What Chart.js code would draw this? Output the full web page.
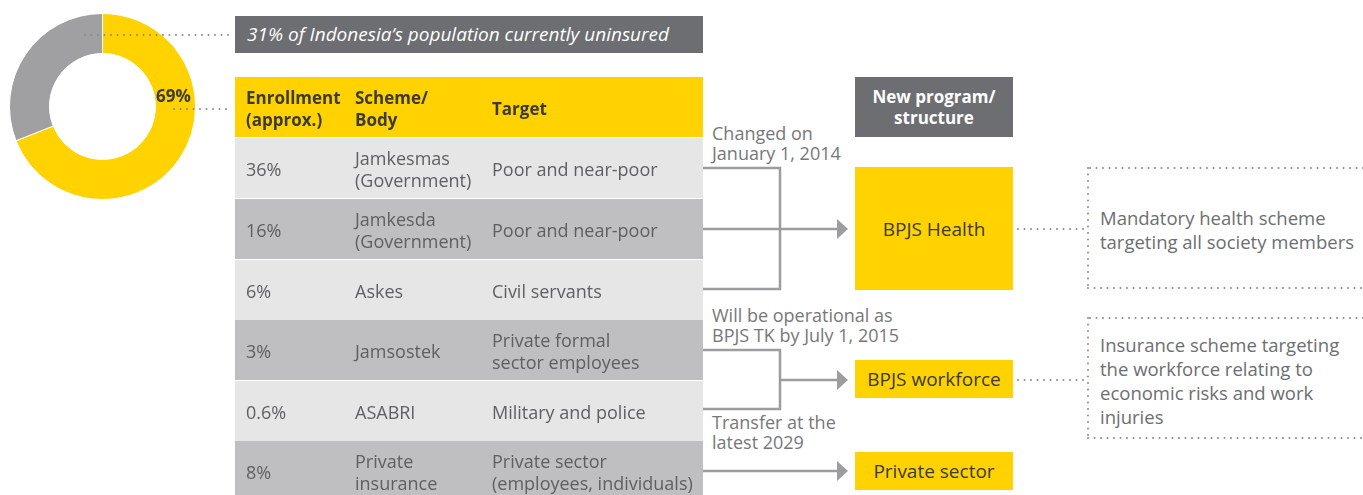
<!DOCTYPE html>
<html>
<head>
<meta charset="utf-8">
<script src="https://cdn.jsdelivr.net/npm/chart.js@4.4.1/dist/chart.umd.min.js"></script>
<style>
  html, body { margin: 0; padding: 0; background: #fff; }
  body { width: 1363px; height: 495px; position: relative; overflow: hidden;
         font-family: "Open Sans", "Noto Sans", sans-serif; color: #5f5f61; }
  .abs { position: absolute; }
  #donut { left: 9px; top: 13px; width: 187px; height: 187px; }
  .pct { left: 156px; top: 84px; font-size: 17px; font-weight: 700; color: #3b3b3d; }
  .banner { left: 235px; top: 16px; width: 468px; height: 37px; background: #6d6e71;
            color: #fff; font-style: italic; font-size: 19px; line-height: 37px; box-sizing: border-box; padding-left: 12px; }
  .hdr { left: 235px; top: 77px; width: 468px; height: 60px; background: #ffd200; }
  .hdr div, .row div { position: absolute; white-space: nowrap; }
  .hdr div { font-weight: 700; font-size: 17px; line-height: 22px; color: #3b3b3d; }
  .row { left: 235px; width: 468px; height: 60px; }
  .row div { font-size: 18px; line-height: 21.5px; color: #5f5f61; }
  .box { display: flex; align-items: center; justify-content: center; text-align: center;
         font-size: 19px; color: #3b3b3d; }
  .note { font-size: 18px; line-height: 19.5px; color: #77777a; white-space: nowrap; }
  .side { font-size: 18.5px; line-height: 24px; color: #6d6e71; white-space: nowrap; }
  svg { position: absolute; left: 0; top: 0; }
</style>
</head>
<body>
<div id="donut" class="abs"><canvas id="chart" width="187" height="187"></canvas></div>
<div class="abs pct" id="pct"></div>
<div class="abs banner" id="banner"></div>
<div class="abs hdr" id="hdr"></div>
<div id="rows"></div>
<div id="right"></div>
<svg width="1363" height="495" id="lines"></svg>

<script>
/* data */
const pieLabels = ["Insured", "Uninsured"];
const pieValues = [69, 31];
const pieColors = ["#ffd200", "#a0a0a2"];

const headers = ["Enrollment<br>(approx.)", "Scheme/<br>Body", "Target"];
const enrollment = ["36%", "16%", "6%", "3%", "0.6%", "8%"];
const schemes = ["Jamkesmas<br>(Government)", "Jamkesda<br>(Government)", "Askes", "Jamsostek", "ASABRI", "Private<br>insurance"];
const targets = ["Poor and near-poor", "Poor and near-poor", "Civil servants", "Private formal<br>sector employees", "Military and police", "Private sector<br>(employees, individuals)"];

const newPrograms = ["BPJS Health", "BPJS workforce", "Private sector"];
const transitions = ["Changed on<br>January 1, 2014", "Will be operational as<br>BPJS TK by July 1, 2015", "Transfer at the<br>latest 2029"];
const descriptions = ["Mandatory health scheme<br>targeting all society members",
  "Insurance scheme targeting<br>the workforce relating to<br>economic risks and work<br>injuries"];

/* doughnut */
new Chart(document.getElementById("chart"), {
  type: "doughnut",
  data: {
    labels: pieLabels,
    datasets: [{ data: pieValues, backgroundColor: pieColors, borderColor: "#fff", borderWidth: 1 }],
  },
  options: {
    responsive: false,
    animation: false,
    cutout: "57%",
    plugins: { legend: { display: false }, tooltip: { enabled: false } },
  },
});
document.getElementById("pct").textContent = pieValues[0] + "%";
document.getElementById("banner").textContent = pieValues[1] + "% of Indonesia\u2019s population currently uninsured";

/* table */
const colX = [11, 120, 257];
const hdr = document.getElementById("hdr");
headers.forEach((h, i) => {
  const d = document.createElement("div");
  d.innerHTML = h;
  d.style.left = colX[i] + "px";
  d.style.top = (h.includes("<br>") ? 10 : 21) + "px";
  hdr.appendChild(d);
});

const rows = document.getElementById("rows");
const rowTops = [138, 199, 260, 320, 381, 441];
enrollment.forEach((e, r) => {
  const row = document.createElement("div");
  row.className = "abs row";
  row.style.top = rowTops[r] + "px";
  row.style.height = (r === 5 ? 54 : 60) + "px";
  row.style.background = r % 2 ? "#bfbfc1" : "#e6e6e7";
  [e, schemes[r], targets[r]].forEach((t, i) => {
    const d = document.createElement("div");
    d.innerHTML = t;
    d.style.left = colX[i] + "px";
    d.style.top = (t.includes("<br>") ? 10 : 21) + "px";
    row.appendChild(d);
  });
  rows.appendChild(row);
});

/* right side */
const right = document.getElementById("right");
function addBox(x, y, w, h, html, bg, cls, extra) {
  const d = document.createElement("div");
  d.className = "abs " + cls;
  Object.assign(d.style, { left: x + "px", top: y + "px", width: w + "px", height: h + "px", background: bg }, extra || {});
  d.innerHTML = html;
  right.appendChild(d);
}
addBox(855, 77, 158, 60, "New program/<br>structure", "#6d6e71", "box",
  { color: "#fff", fontWeight: "700", fontSize: "17px", lineHeight: "21px" });
const boxTops = [167, 360, 452], boxHeights = [123, 38, 38];
newPrograms.forEach((p, i) => addBox(855, boxTops[i], 158, boxHeights[i], p, "#ffd200", "box"));

const noteTops = [124, 306, 413];
transitions.forEach((t, i) => addBox(712, noteTops[i], 220, 42, t, "transparent", "note"));

const descTops = [206, 333];
descriptions.forEach((t, i) => addBox(1100, descTops[i], 262, 100, t, "transparent", "side"));

/* connectors */
const svg = document.getElementById("lines");
const NS = "http://www.w3.org/2000/svg";
function line(x1, y1, x2, y2, dotted) {
  const l = document.createElementNS(NS, "line");
  l.setAttribute("x1", x1); l.setAttribute("y1", y1);
  l.setAttribute("x2", x2); l.setAttribute("y2", y2);
  if (dotted) {
    l.setAttribute("stroke", "#8a8a8c");
    l.setAttribute("stroke-width", 2);
    l.setAttribute("stroke-dasharray", "0 6.5");
    l.setAttribute("stroke-linecap", "round");
  } else {
    l.setAttribute("stroke", "#9d9d9f");
    l.setAttribute("stroke-width", 2.5);
  }
  svg.appendChild(l);
}
function poly(pts) {
  const p = document.createElementNS(NS, "polyline");
  p.setAttribute("points", pts);
  p.setAttribute("fill", "none");
  p.setAttribute("stroke", "#9d9d9f");
  p.setAttribute("stroke-width", 2.5);
  svg.appendChild(p);
}
function arrow(x1, x2, y) {
  line(x1, y, x2 - 10, y);
  const p = document.createElementNS(NS, "polygon");
  p.setAttribute("points", `${x2 - 11},${y - 10} ${x2},${y} ${x2 - 11},${y + 10}`);
  p.setAttribute("fill", "#9d9d9f");
  svg.appendChild(p);
}
poly("703,168 780,168 780,289 703,289");
arrow(703, 848, 229);
poly("703,350 780,350 780,409 703,409");
arrow(780, 848, 380);
arrow(703, 848, 471);

// dotted leaders
line(85, 35, 232, 35, true);
line(174, 109, 232, 109, true);
line(1018, 229, 1086, 229, true);
line(1018, 380, 1086, 380, true);
// dotted boxes (open on the right)
[[168, 288], [318, 438]].forEach(([t, b]) => {
  line(1363, t, 1088, t, true);
  line(1088, t, 1088, b, true);
  line(1088, b, 1363, b, true);
});
</script>
</body>
</html>
